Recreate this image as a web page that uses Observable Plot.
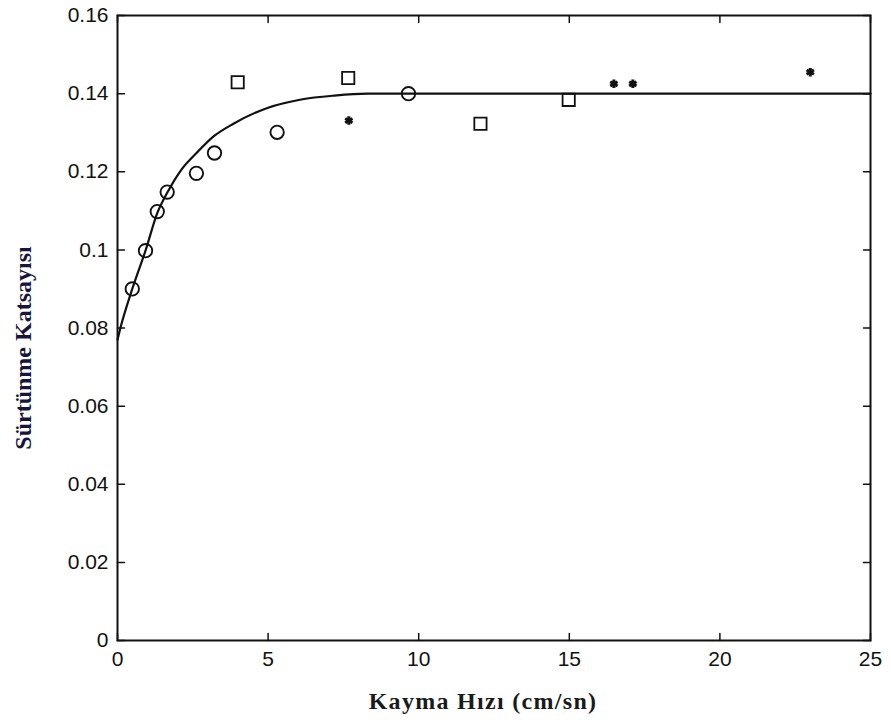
<!DOCTYPE html>
<html>
<head>
<meta charset="utf-8">
<script src="https://cdn.jsdelivr.net/npm/d3@7"></script>
<script src="https://cdn.jsdelivr.net/npm/@observablehq/plot@0.6"></script>
<style>
  html, body { margin: 0; padding: 0; background: #fff; }
  #chart svg { display: block; }
</style>
</head>
<body>
<div id="chart"></div>
<script>
// Circles (o)
const circleX = [0.49, 0.93, 1.32, 1.65, 2.62, 3.22, 5.30, 9.66];
const circleY = [0.090, 0.0998, 0.1098, 0.1148, 0.1196, 0.1248, 0.1301, 0.1400];
// Squares
const squareX = [3.99, 7.66, 12.05, 14.98];
const squareY = [0.1429, 0.1440, 0.1323, 0.1384];
// Stars (*)
const starX = [7.68, 16.48, 17.11, 23.0];
const starY = [0.1331, 0.1425, 0.1425, 0.1455];
// Fitted curve
const curveX = [0, 0.1, 0.49, 0.93, 1.32, 1.65, 2.1, 2.65, 3.2, 3.85, 5.0, 6.1, 7.2, 8.3, 9.4, 12, 25];
const curveY = [0.077, 0.0801, 0.090, 0.0998, 0.1094, 0.1146, 0.1203, 0.1250, 0.1291, 0.1323, 0.1364, 0.1385, 0.1395, 0.1400, 0.1400, 0.1400, 0.1400];
// Ticks
const xTicks = [0, 5, 10, 15, 20, 25];
const yTicks = [0, 0.02, 0.04, 0.06, 0.08, 0.1, 0.12, 0.14, 0.16];
const yTickLabels = ["0", "0.02", "0.04", "0.06", "0.08", "0.1", "0.12", "0.14", "0.16"];
const xLabel = "Kayma Hızı (cm/sn)";
const yLabel = "Sürtünme Katsayısı";

const circles = circleX.map((x, i) => ({x, y: circleY[i]}));
const squares = squareX.map((x, i) => ({x, y: squareY[i]}));
const stars = starX.map((x, i) => ({x, y: starY[i]}));
const curve = curveX.map((x, i) => ({x, y: curveY[i]}));

const tickFont = {fontFamily: "'Liberation Sans', Arial, sans-serif", fontSize: 21, fill: "#111"};
const spike = {draw(context, l) { context.moveTo(0, 0); context.lineTo(0, -l); }};
const tickStyle = {length: 7, anchor: "start", shape: spike, stroke: "#111", strokeWidth: 1.5};

const chart = Plot.plot({
  width: 891,
  height: 723,
  marginLeft: 117,
  marginRight: 21,
  marginTop: 15,
  marginBottom: 83,
  x: {domain: [0, 25]},
  y: {domain: [0, 0.16]},
  style: {background: "#fff"},
  marks: [
    Plot.line(curve, {x: "x", y: "y", curve: "monotone-x", stroke: "#111", strokeWidth: 2.2}),
    Plot.dot(circles, {x: "x", y: "y", r: 6.7, stroke: "#111", strokeWidth: 1.9, fill: "none"}),
    Plot.dot(squares, {x: "x", y: "y", symbol: "square", r: 6.9, stroke: "#111", strokeWidth: 1.8, fill: "none"}),
    Plot.dot(stars, {x: "x", y: "y", symbol: "asterisk", r: 4, stroke: "#111", strokeWidth: 3}),
    // tick labels
    Plot.axisX({ticks: xTicks, tickSize: 0, tickPadding: 11, label: null, ...tickFont}),
    Plot.axisY({ticks: yTicks, tickSize: 0, tickPadding: 9, label: null, tickFormat: (d, i) => yTickLabels[i], ...tickFont}),
    // inward ticks on all sides
    Plot.vector(xTicks, {x: d => d, frameAnchor: "bottom", rotate: 0, ...tickStyle}),
    Plot.vector(xTicks, {x: d => d, frameAnchor: "top", rotate: 180, ...tickStyle}),
    Plot.vector(yTicks, {y: d => d, frameAnchor: "left", rotate: 90, ...tickStyle}),
    Plot.vector(yTicks, {y: d => d, frameAnchor: "right", rotate: -90, ...tickStyle}),
    Plot.frame({stroke: "#111", strokeWidth: 2}),
    // axis titles
    Plot.text([xLabel], {frameAnchor: "bottom", dx: -11, dy: 68, text: d => d, fontFamily: "'Liberation Serif', 'Times New Roman', serif", fontWeight: "bold", fontSize: 24, fill: "#1a1a1a"}),
    Plot.text([yLabel], {frameAnchor: "left", textAnchor: "middle", dx: -94, dy: 20, rotate: -90, text: d => d, fontFamily: "'Liberation Serif', 'Times New Roman', serif", fontWeight: "bold", fontSize: 24, fill: "#16163c"})
  ]
});
d3.select(chart).selectAll("text").filter(function() { return this.textContent === xLabel; }).attr("letter-spacing", "1.3");
document.getElementById("chart").appendChild(chart);
</script>
</body>
</html>
